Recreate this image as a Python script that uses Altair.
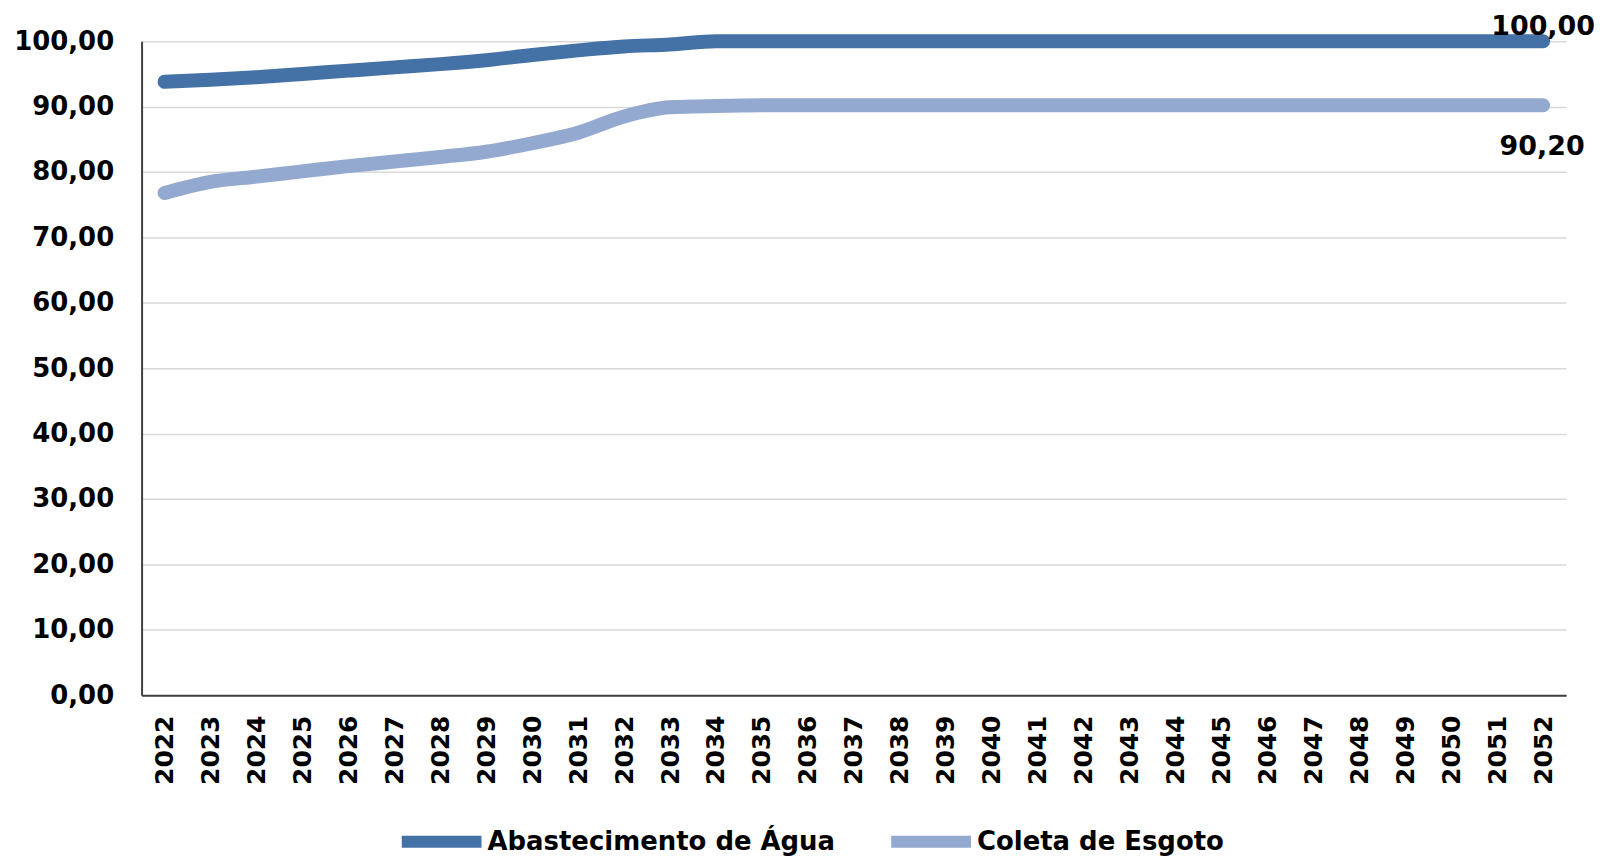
import altair as alt
import pandas as pd

years = [str(y) for y in range(2022, 2053)]
agua = [93.8, 94.1, 94.5, 95.0, 95.5, 96.0, 96.5, 97.1, 97.9, 98.6, 99.2, 99.5,
        100.0, 100.0, 100.0, 100.0, 100.0, 100.0, 100.0, 100.0, 100.0, 100.0,
        100.0, 100.0, 100.0, 100.0, 100.0, 100.0, 100.0, 100.0, 100.0]
esgoto = [76.8, 78.5, 79.3, 80.1, 80.9, 81.6, 82.3, 83.1, 84.4, 86.0, 88.5, 89.9,
          90.1, 90.2, 90.2, 90.2, 90.2, 90.2, 90.2, 90.2, 90.2, 90.2, 90.2, 90.2,
          90.2, 90.2, 90.2, 90.2, 90.2, 90.2, 90.2]
series_names = ["Abastecimento de Água", "Coleta de Esgoto"]
series_colors = ["#4472A6", "#94A9CF"]
end_labels = ["100,00", "90,20"]

rows = []
for i, y in enumerate(years):
    rows.append({"ano": y, "valor": agua[i], "serie": series_names[0]})
    rows.append({"ano": y, "valor": esgoto[i], "serie": series_names[1]})
df = pd.DataFrame(rows)

lab_df = pd.DataFrame({
    "ano": [years[-1], years[-1]],
    "valor": [agua[-1], esgoto[-1]],
    "txt": end_labels,
})

FONT = "DejaVu Sans"

x_enc = alt.X("ano:O", scale=alt.Scale(padding=0.5), sort=years,
              axis=alt.Axis(title=None, labelAngle=270, ticks=False, labelPadding=20,
                            labelFont=FONT, labelFontWeight="bold", labelFontSize=25,
                            labelColor="#000000", domainColor="#404040", domainWidth=2,
                            grid=False))
y_scale = alt.Scale(domain=[0, 100], nice=False, zero=True)

lines = alt.Chart(df).mark_line(strokeWidth=14, strokeCap="round", strokeJoin="round",
                                interpolate="monotone").encode(
    x=x_enc,
    y=alt.Y("valor:Q", scale=y_scale,
            axis=alt.Axis(title=None, values=list(range(0, 101, 10)), ticks=False,
                          labelPadding=28, labelFont=FONT, labelFontWeight="bold",
                          labelFontSize=26, labelColor="#000000",
                          labelExpr="replace(format(datum.value, '.2f'), '.', ',')",
                          domainColor="#404040", domainWidth=2,
                          gridColor="#d9d9d9", gridWidth=1.5)),
    color=alt.Color("serie:N", scale=alt.Scale(domain=series_names, range=series_colors),
                    legend=alt.Legend(title=None, orient="none", direction="horizontal",
                                      legendX=255, legendY=757,
                                      symbolType="stroke", symbolSize=6400,
                                      symbolStrokeWidth=12, labelOffset=0,
                                      columnPadding=32, labelFont=FONT,
                                      labelFontWeight="bold", labelFontSize=26,
                                      labelLimit=0, labelColor="#000000")),
)

lab_top = alt.Chart(lab_df.iloc[[0]]).mark_text(font=FONT, fontSize=27, fontWeight="bold",
                                                color="#000000", align="center",
                                                baseline="middle", dx=0, dy=-14).encode(
    x=alt.X("ano:O", sort=years), y=alt.Y("valor:Q", scale=y_scale), text="txt:N")
lab_bot = alt.Chart(lab_df.iloc[[1]]).mark_text(font=FONT, fontSize=27, fontWeight="bold",
                                                color="#000000", align="center",
                                                baseline="middle", dx=-1, dy=42).encode(
    x=alt.X("ano:O", sort=years), y=alt.Y("valor:Q", scale=y_scale), text="txt:N")

chart = alt.layer(lines, lab_top, lab_bot).properties(
    width=1429, height=656,
    background="#ffffff",
    autosize=alt.AutoSizeParams(type="none"),
    padding={"left": 134, "top": 32, "right": 30, "bottom": 162},
).configure_view(strokeWidth=0).configure_axisX(grid=False)

chart.save("out.html", embed_options={"renderer": "svg", "actions": False})
